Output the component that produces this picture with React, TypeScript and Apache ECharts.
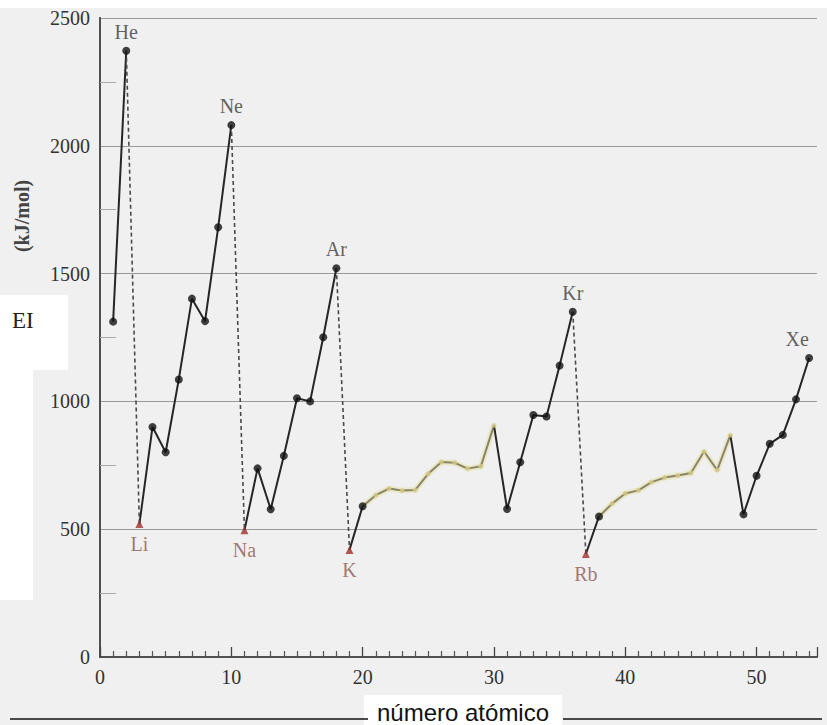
import React, { useEffect, useRef } from "react";
import * as echarts from "echarts";

// Atomic numbers 1..54 and first ionization energies (kJ/mol)
const atomicNumbers = [
  1, 2, 3, 4, 5, 6, 7, 8, 9, 10, 11, 12, 13, 14, 15, 16, 17, 18, 19, 20, 21, 22, 23, 24, 25, 26, 27,
  28, 29, 30, 31, 32, 33, 34, 35, 36, 37, 38, 39, 40, 41, 42, 43, 44, 45, 46, 47, 48, 49, 50, 51, 52,
  53, 54,
];
const energies = [
  1312, 2372, 520, 900, 801, 1086, 1402, 1314, 1681, 2081, 496, 738, 578, 787, 1012, 1000, 1251, 1521,
  419, 590, 633, 659, 651, 653, 717, 763, 760, 737, 746, 906, 579, 762, 947, 941, 1140, 1351, 403, 550,
  600, 640, 652, 684, 702, 710, 720, 804, 731, 868, 558, 709, 834, 869, 1008, 1170,
];

const nobleGasZ = [2, 10, 18, 36, 54];
const nobleGasNames = ["He", "Ne", "Ar", "Kr", "Xe"];
const alkaliZ = [3, 11, 19, 37];
const alkaliNames = ["Li", "Na", "K", "Rb"];
const transitionZ = [21, 22, 23, 24, 25, 26, 27, 28, 29, 30, 39, 40, 41, 42, 43, 44, 45, 46, 47, 48];

// segments (inclusive ranges of atomic numbers)
const solidRanges = [[1, 2], [3, 10], [11, 18], [19, 20], [30, 36], [37, 38], [48, 54]];
const transitionRanges = [[20, 30], [38, 48]];
const dashedRanges = [[2, 3], [10, 11], [18, 19], [36, 37]];

const xTicks = [0, 10, 20, 30, 40, 50];
const yTicks = [0, 500, 1000, 1500, 2000, 2500];

const pt = (z: number) => [atomicNumbers[z - 1], energies[z - 1]];
const rangeData = (r: number[]) => {
  const out: number[][] = [];
  for (let z = r[0]; z <= r[1]; z++) out.push(pt(z));
  return out;
};

const SERIF = "Liberation Serif";
const X_MAX = 54.6;

export default function App() {
  const ref = useRef<HTMLDivElement>(null);
  useEffect(() => {
    if (!ref.current) return;
    const chart = echarts.init(ref.current, undefined, { renderer: "svg" });
    const series: any[] = [];
    transitionRanges.forEach((r) => {
      series.push({
        type: "line",
        data: rangeData(r),
        showSymbol: false,
        silent: true,
        lineStyle: { color: "rgba(222,214,120,0.3)", width: 6 },
        z: 1,
      });
      series.push({
        type: "line",
        data: rangeData(r),
        showSymbol: false,
        silent: true,
        lineStyle: { color: "#8a8566", width: 2 },
        z: 2,
      });
    });
    solidRanges.forEach((r) => {
      series.push({
        type: "line",
        data: rangeData(r),
        showSymbol: false,
        silent: true,
        lineStyle: { color: "#262626", width: 2 },
        z: 3,
      });
    });
    dashedRanges.forEach((r) => {
      series.push({
        type: "line",
        data: rangeData(r),
        showSymbol: false,
        silent: true,
        lineStyle: { color: "#4a4a4a", width: 1.6, type: [4, 3] },
        z: 3,
      });
    });
    const blackDots = atomicNumbers
      .filter((z) => !alkaliZ.includes(z) && !transitionZ.includes(z))
      .map((z) => {
        const i = nobleGasZ.indexOf(z);
        const item: any = { value: pt(z) };
        if (i >= 0) {
          item.label = {
            show: true,
            formatter: nobleGasNames[i],
            position: "top",
            distance: 5,
            offset: z === 54 ? [-12, 0] : [0, 0],
          };
        }
        return item;
      });
    series.push({
      type: "scatter",
      data: blackDots,
      symbol: "circle",
      symbolSize: 8,
      itemStyle: { color: "#111" },
      label: { fontFamily: SERIF, fontSize: 20, color: "#3a3a3a" },
      z: 5,
    });
    series.push({
      type: "scatter",
      data: transitionZ.map((z) => pt(z)),
      symbol: "circle",
      symbolSize: 5,
      itemStyle: { color: "#d4cb86" },
      z: 5,
    });
    series.push({
      type: "scatter",
      data: alkaliZ.map((z, i) => ({
        value: pt(z),
        label: { show: true, formatter: alkaliNames[i], position: "bottom", distance: 6 },
      })),
      symbol: "triangle",
      symbolSize: 8,
      itemStyle: { color: "#a0302c" },
      label: { fontFamily: SERIF, fontSize: 20, color: "#8a5a4e" },
      z: 5,
    });

    const borderAxis = {
      axisLine: { show: true, lineStyle: { color: "#555", width: 1.5 } },
      axisTick: { show: false },
      axisLabel: { show: false },
      splitLine: { show: false },
    };

    chart.setOption({
      animation: false,
      backgroundColor: "#f0f0f0",
      grid: { left: 100, top: 18, right: 10, bottom: 68 },
      xAxis: [
        {
          type: "value",
          min: 0,
          max: X_MAX,
          interval: 10,
          axisLine: { show: true, onZero: false, lineStyle: { color: "#444", width: 2 } },
          axisTick: { show: false },
          splitLine: { show: false },
          axisLabel: {
            fontFamily: SERIF,
            fontSize: 20,
            color: "#333",
            margin: 10,
            showMaxLabel: false,
            formatter: (v: number) => (xTicks.includes(v) ? String(v) : ""),
          },
        },
        { type: "value", position: "top", min: 0, max: X_MAX, ...borderAxis },
        {
          type: "value",
          position: "bottom",
          min: 0,
          max: X_MAX,
          interval: 10,
          axisLine: { show: false, onZero: false },
          axisLabel: { show: false },
          splitLine: { show: false },
          axisTick: { show: true, inside: true, length: 10, lineStyle: { color: "#444", width: 1.3 } },
          minorTick: { show: true, splitNumber: 10, length: 6, lineStyle: { color: "#555", width: 1.2 } },
        },
      ],
      yAxis: [
        {
          type: "value",
          min: 0,
          max: 2500,
          interval: 500,
          axisLine: { show: true, onZero: false, lineStyle: { color: "#444", width: 2 } },
          axisTick: { show: false, inside: true },
          minorTick: { show: true, splitNumber: 2, length: 16, lineStyle: { color: "#aaa" } },
          splitLine: { show: true, lineStyle: { color: "#9a9a9a", width: 1 } },
          axisLabel: {
            fontFamily: SERIF,
            fontSize: 20,
            color: "#333",
            margin: 10,
            formatter: (v: number) => (yTicks.includes(v) ? String(v) : ""),
          },
        },
        { type: "value", position: "right", min: 0, max: 2500, ...borderAxis },
      ],
      graphic: [
        { type: "rect", shape: { x: 0, y: 0, width: 827, height: 8 }, style: { fill: "#ffffff" }, z: -1 },
        { type: "rect", shape: { x: 0, y: 295, width: 68, height: 75 }, style: { fill: "#ffffff" }, z: -1 },
        { type: "rect", shape: { x: 0, y: 370, width: 33, height: 230 }, style: { fill: "#ffffff" }, z: -1 },
        { type: "rect", shape: { x: 364, y: 695, width: 198, height: 30 }, style: { fill: "#ffffff" }, z: -1 },
        {
          type: "text",
          x: 22,
          y: 216,
          rotation: Math.PI / 2,
          style: {
            text: "(kJ/mol)",
            fontFamily: SERIF,
            fontSize: 20,
            fontWeight: "bold",
            fill: "#444",
            align: "center",
            verticalAlign: "middle",
          },
        },
        {
          type: "text",
          x: 12,
          y: 320,
          style: {
            text: "EI",
            fontFamily: SERIF,
            fontSize: 23,
            fill: "#222",
            align: "left",
            verticalAlign: "middle",
          },
        },
        {
          type: "line",
          shape: { x1: 10, y1: 719, x2: 368, y2: 719 },
          style: { stroke: "#111", lineWidth: 1.5 },
        },
        {
          type: "line",
          shape: { x1: 563, y1: 719, x2: 822, y2: 719 },
          style: { stroke: "#111", lineWidth: 1.5 },
        },
        {
          type: "text",
          x: 463,
          y: 724,
          style: {
            text: "número atómico",
            fontFamily: "Liberation Sans",
            fontSize: 24,
            fill: "#111",
            align: "center",
            verticalAlign: "bottom",
          },
        },
      ],
      series,
    });
    return () => chart.dispose();
  }, []);
  return (
    <div
      ref={ref}
      style={{ position: "fixed", left: 0, top: 0, width: 827, height: 725 }}
    />
  );
}
